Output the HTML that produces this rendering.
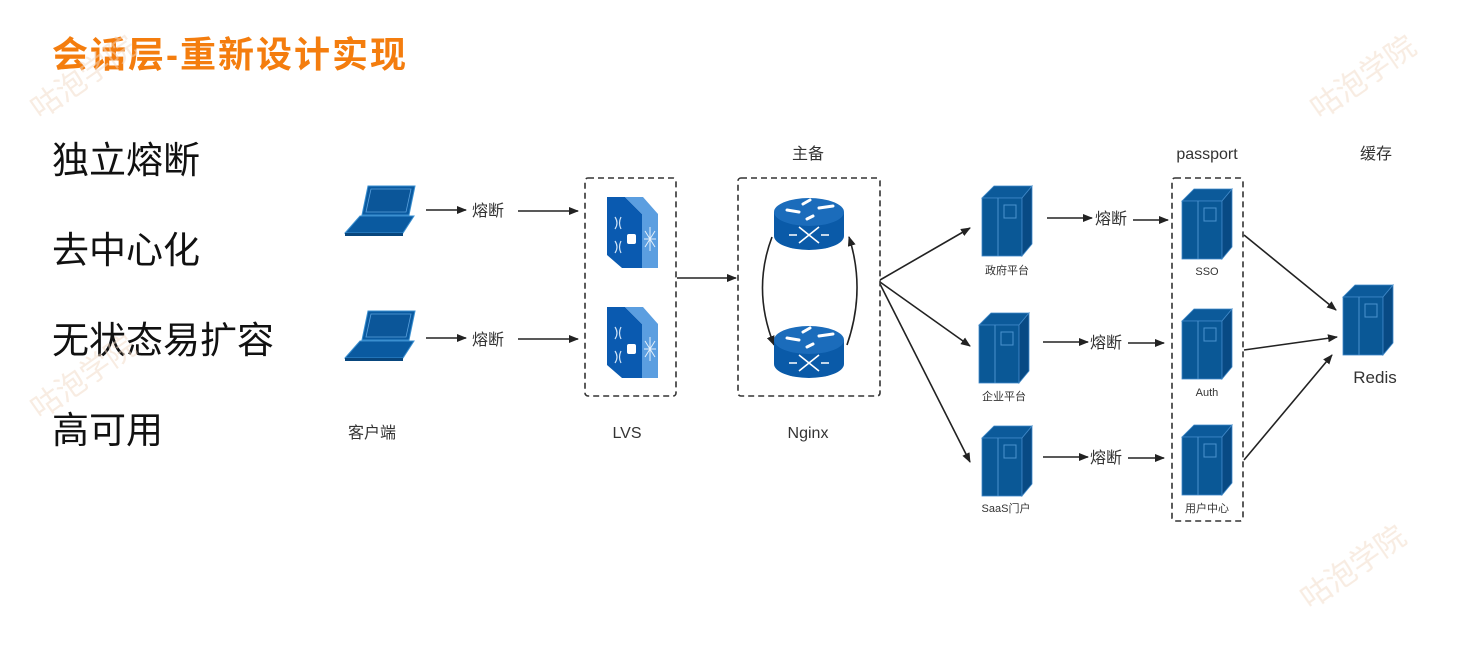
<!DOCTYPE html>
<html><head><meta charset="utf-8"><style>
html,body{margin:0;padding:0;background:#fff;}
body{width:1466px;height:666px;overflow:hidden;font-family:"Liberation Sans","Noto Sans CJK SC",sans-serif;}
</style></head><body>
<svg width="1466" height="666" viewBox="0 0 1466 666" xmlns="http://www.w3.org/2000/svg" font-family="Liberation Sans, Noto Sans CJK SC, sans-serif">
<defs>
<marker id="ah" markerWidth="10" markerHeight="8" refX="9" refY="4" orient="auto" markerUnits="userSpaceOnUse">
<path d="M0,0 L10,4 L0,8 Z" fill="#222"/></marker>
<g id="laptop">
<polygon points="23,0 70,0 64,29 17,29" fill="#0a5aa0" stroke="#3a8fd0" stroke-width="1"/>
<polygon points="26,3 66,3 61,26 21,26" fill="#0b5699" stroke="#5aa0dc" stroke-width="0.8"/>
<polygon points="15,30 69,30 58,47 0,47" fill="#0a5aa0" stroke="#3a8fd0" stroke-width="1"/>
<polygon points="0,47 58,47 58,50 0,50" fill="#08467d"/>
</g>
<g id="server">
<polygon points="0,12 12,0 50,0 40,12" fill="#0c5a9a" stroke="#3f88c8" stroke-width="0.8"/>
<rect x="0" y="12" width="40" height="58" fill="#0a5896" stroke="#3f88c8" stroke-width="0.8"/>
<polygon points="40,12 50,0 50,58 40,70" fill="#084a84" stroke="#3f88c8" stroke-width="0.8"/>
<line x1="16" y1="12" x2="16" y2="70" stroke="#4a92cf" stroke-width="1"/>
<rect x="22" y="19" width="12" height="13" fill="none" stroke="#4a92cf" stroke-width="1"/>
</g>
<g id="switch">
<polygon points="0,0 18,0 35,17 35,71 15,71 0,58" fill="#0a5ab0"/>
<polygon points="18,0 36,0 51,17 35,17" fill="#5b9ee0"/>
<polygon points="35,17 51,17 51,71 35,71" fill="#5b9ee0"/>
<rect x="20" y="37" width="9" height="10" fill="#fff" rx="2"/>
<path d="M8,20 q4,6 0,12 M14,20 q-3,6 0,12 M8,44 q4,6 0,12 M14,44 q-3,6 0,12" stroke="#cfe3f7" stroke-width="1.2" fill="none"/>
<path d="M43,30 v24 M37,42 h12 M38,34 l10,16 M48,34 l-10,16" stroke="#e5f0fb" stroke-width="1" fill="none"/>
</g>
<g id="router">
<path d="M-35,0 v24 a35,14 0 0 0 70,0 v-24 z" fill="#0a5aa8"/>
<ellipse cx="0" cy="0" rx="35" ry="14" fill="#1b6cbb"/>
<path d="M-22,-2 l12,2 M-6,-8 l7,-4 M4,4 l-6,3 M10,-4 l14,-2" stroke="#fff" stroke-width="3" stroke-linecap="round"/>
<path d="M-10,15 l20,16 M10,15 l-20,16 M-20,23 h8 M12,23 h8" stroke="#fff" stroke-width="1.6" fill="none"/>
</g>
</defs>

<text x="52" y="67" font-size="36" font-weight="bold" fill="#f47d0e" letter-spacing="2">会话层-重新设计实现</text>
<g font-size="37" fill="#111">
<text x="52" y="173">独立熔断</text>
<text x="52" y="263">去中心化</text>
<text x="52" y="353">无状态易扩容</text>
<text x="52" y="443">高可用</text>
</g>
<g font-size="30" fill="#f0d9c4" opacity="0.5">
<text x="40" y="120" transform="rotate(-35 40 120)">咕泡学院</text>
<text x="1320" y="120" transform="rotate(-35 1320 120)">咕泡学院</text>
<text x="40" y="420" transform="rotate(-35 40 420)">咕泡学院</text>
<text x="1310" y="610" transform="rotate(-35 1310 610)">咕泡学院</text>
</g>

<use href="#laptop" x="345" y="186"/>
<use href="#laptop" x="345" y="311"/>
<g stroke="#222" stroke-width="1.6" fill="none" marker-end="url(#ah)">
<line x1="426" y1="210" x2="466" y2="210"/>
<line x1="518" y1="211" x2="578" y2="211"/>
<line x1="426" y1="338" x2="466" y2="338"/>
<line x1="518" y1="339" x2="578" y2="339"/>
<line x1="677" y1="278" x2="736" y2="278"/>
<line x1="880" y1="280" x2="970" y2="228"/>
<line x1="880" y1="282" x2="970" y2="346"/>
<line x1="880" y1="284" x2="970" y2="462"/>
<line x1="1047" y1="218" x2="1092" y2="218"/>
<line x1="1133" y1="220" x2="1168" y2="220"/>
<line x1="1043" y1="342" x2="1088" y2="342"/>
<line x1="1128" y1="343" x2="1164" y2="343"/>
<line x1="1043" y1="457" x2="1088" y2="457"/>
<line x1="1128" y1="458" x2="1164" y2="458"/>
<line x1="1244" y1="235" x2="1336" y2="310"/>
<line x1="1244" y1="350" x2="1337" y2="337"/>
<line x1="1244" y1="460" x2="1332" y2="355"/>
<path d="M772,237 Q752,290 774,345"/>
<path d="M847,345 Q866,290 849,237"/>
</g>
<g font-size="16" fill="#333">
<text x="472" y="216">熔断</text>
<text x="472" y="345">熔断</text>
<text x="1095" y="224">熔断</text>
<text x="1090" y="348">熔断</text>
<text x="1090" y="463">熔断</text>
</g>
<rect x="585" y="178" width="91" height="218" rx="3" fill="none" stroke="#333" stroke-width="1.6" stroke-dasharray="6,4"/>
<rect x="738" y="178" width="142" height="218" rx="3" fill="none" stroke="#333" stroke-width="1.6" stroke-dasharray="6,4"/>
<rect x="1172" y="178" width="71" height="343" rx="3" fill="none" stroke="#333" stroke-width="1.6" stroke-dasharray="6,4"/>
<use href="#switch" x="607" y="197"/>
<use href="#switch" x="607" y="307"/>
<use href="#router" x="809" y="212"/>
<use href="#router" x="809" y="340"/>
<use href="#server" x="982" y="186"/>
<use href="#server" x="979" y="313"/>
<use href="#server" x="982" y="426"/>
<use href="#server" x="1182" y="189"/>
<use href="#server" x="1182" y="309"/>
<use href="#server" x="1182" y="425"/>
<use href="#server" x="1343" y="285"/>
<g font-size="16" fill="#333" text-anchor="middle">
<text x="372" y="438">客户端</text>
<text x="627" y="438">LVS</text>
<text x="808" y="438">Nginx</text>
<text x="808" y="159">主备</text>
<text x="1207" y="159">passport</text>
<text x="1376" y="159">缓存</text>
<text x="1375" y="383" font-size="17">Redis</text>
</g>
<g font-size="11" fill="#333" text-anchor="middle">
<text x="1007" y="274">政府平台</text>
<text x="1004" y="400">企业平台</text>
<text x="1006" y="512">SaaS门户</text>
<text x="1207" y="275">SSO</text>
<text x="1207" y="396">Auth</text>
<text x="1207" y="512">用户中心</text>
</g>
</svg>
</body></html>
